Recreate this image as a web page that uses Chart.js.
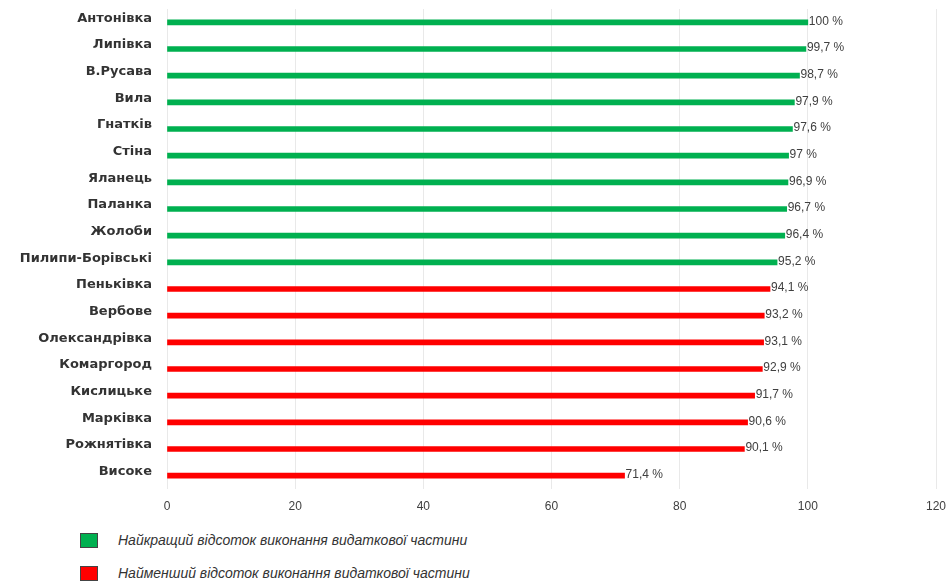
<!DOCTYPE html>
<html>
<head>
<meta charset="utf-8">
<script src="https://cdn.jsdelivr.net/npm/chart.js@4"></script>
<style>
  html, body { margin: 0; padding: 0; background: #fff; }
  #wrap { position: relative; width: 950px; height: 583px; overflow: hidden; }
  #chartBox { position: absolute; left: 0; top: 0; width: 950px; height: 520px; }
  .legend { position: absolute; left: 80px; font: italic 14px "Liberation Sans", Arial, sans-serif; color: #333; }
  .legend span.box { position: absolute; left: 0; top: 0; width: 18px; height: 15px; border: 1px solid #444; box-sizing: border-box; }
  .legend span.txt { position: absolute; left: 38px; top: -1px; white-space: nowrap; }
</style>
</head>
<body>
<div id="wrap">
  <div id="chartBox"><canvas id="villageChart"></canvas></div>
  <div class="legend" style="top:533px"><span class="box" style="background:#00b050"></span><span class="txt">Найкращий відсоток виконання видаткової частини</span></div>
  <div class="legend" style="top:566px"><span class="box" style="background:#ff0000"></span><span class="txt">Найменший відсоток виконання видаткової частини</span></div>
</div>
<script>
// Data
const villages = [
  'Антонівка', 'Липівка', 'В.Русава', 'Вила', 'Гнатків', 'Стіна', 'Яланець',
  'Паланка', 'Жолоби', 'Пилипи-Борівські', 'Пеньківка', 'Вербове',
  'Олександрівка', 'Комаргород', 'Кислицьке', 'Марківка', 'Рожнятівка', 'Високе'
];
const bestValues = [100, 99.7, 98.7, 97.9, 97.6, 97, 96.9, 96.7, 96.4, 95.2,
  null, null, null, null, null, null, null, null];
const worstValues = [null, null, null, null, null, null, null, null, null, null,
  94.1, 93.2, 93.1, 92.9, 91.7, 90.6, 90.1, 71.4];
const xTicks = [0, 20, 40, 60, 80, 100, 120];
const seriesNames = [
  'Найкращий відсоток виконання видаткової частини',
  'Найменший відсоток виконання видаткової частини'
];

const FONT = '"Liberation Sans", Arial, sans-serif';

// value labels at the end of each bar, e.g. "97,9 %"
const valueLabels = {
  id: 'valueLabels',
  afterDatasetsDraw(chart) {
    const c = chart.ctx;
    c.save();
    c.font = '12px ' + FONT;
    c.fillStyle = '#404040';
    c.textAlign = 'left';
    c.textBaseline = 'middle';
    chart.data.datasets.forEach((ds, di) => {
      chart.getDatasetMeta(di).data.forEach((bar, i) => {
        const v = ds.data[i];
        if (v === null || v === undefined) return;
        const txt = String(v).replace('.', ',') + ' %';
        c.fillText(txt, bar.x + 1, bar.y - 1);
      });
    });
    c.restore();
  }
};

const ctx = document.getElementById('villageChart').getContext('2d');
new Chart(ctx, {
  type: 'bar',
  data: {
    labels: villages,
    datasets: [
      {
        label: seriesNames[0],
        data: bestValues,
        backgroundColor: '#00b050',
        barThickness: 5,
        grouped: false,
      },
      {
        label: seriesNames[1],
        data: worstValues,
        backgroundColor: '#ff0000',
        barThickness: 5,
        grouped: false,
      },
    ],
  },
  options: {
    indexAxis: 'y',
    responsive: true,
    maintainAspectRatio: false,
    animation: false,
    layout: { padding: { top: 9, right: 14, left: 0, bottom: 0 } },
    plugins: {
      legend: { display: false },
      tooltip: { enabled: false },
    },
    scales: {
      x: {
        min: 0,
        max: 120,
        afterBuildTicks: (scale) => {
          scale.ticks = xTicks.map((v) => ({ value: v }));
        },
        afterFit: (scale) => {
          scale.height = 31;
          scale.paddingLeft = 0;
          scale.paddingRight = 0;
        },
        grid: { color: '#e9e9e9', drawTicks: false },
        border: { display: false },
        ticks: {
          padding: 10,
          color: '#404040',
          font: { family: FONT, size: 12 },
        },
      },
      y: {
        afterFit: (scale) => {
          scale.width = 167;
          scale.paddingTop = 0;
          scale.paddingBottom = 0;
        },
        grid: { display: false },
        border: { display: false },
        ticks: {
          padding: 7,
          labelOffset: -4,
          color: '#333',
          font: { family: '"DejaVu Sans", sans-serif', size: 13, weight: 'bold' },
          autoSkip: false,
        },
      },
    },
  },
  plugins: [valueLabels],
});
</script>
</body>
</html>
